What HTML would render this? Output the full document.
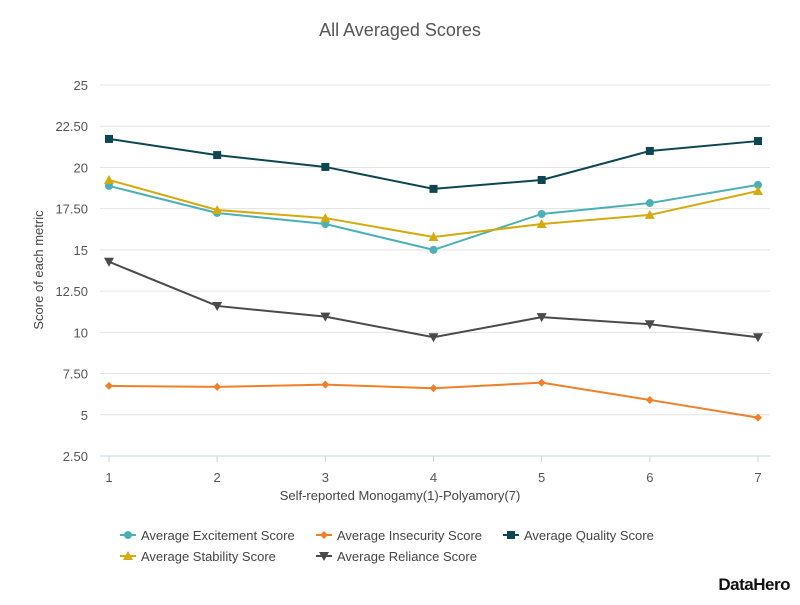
<!DOCTYPE html>
<html><head><meta charset="utf-8"><style>
body{margin:0;background:#fff;font-family:"Liberation Sans",sans-serif;}
#wrap{position:relative;width:800px;height:600px;}
</style></head><body>
<div id="wrap">
<svg id="chart" width="800" height="600"></svg>
</div>
<script>
const categories=[1,2,3,4,5,6,7];
const yTicks=[2.5,5,7.5,10,12.5,15,17.5,20,22.5,25];
const yTickLabels=["2.50","5","7.50","10","12.50","15","17.50","20","22.50","25"];
const excitement=[18.88,17.24,16.57,15.0,17.18,17.84,18.94];
const insecurity=[6.75,6.69,6.83,6.61,6.95,5.9,4.83];
const quality=[21.73,20.75,20.03,18.7,19.24,21.0,21.6];
const stability=[19.24,17.42,16.93,15.78,16.57,17.12,18.57];
const reliance=[14.28,11.6,10.95,9.7,10.92,10.49,9.7];
const seriesNames=["Average Excitement Score","Average Insecurity Score","Average Quality Score","Average Stability Score","Average Reliance Score"];

const NS="http://www.w3.org/2000/svg";
const svg=document.getElementById('chart');
function el(t,a,p){const e=document.createElementNS(NS,t);for(const k in a)e.setAttribute(k,a[k]);(p||svg).appendChild(e);return e;}
const x=v=>109+(v-1)*(758-109)/6;
const y=v=>456-(v-2.5)*(456-85)/22.5;

let t=el('text',{x:400,y:36,'text-anchor':'middle','font-size':18,fill:'#555'});t.textContent='All Averaged Scores';


yTicks.forEach((v,i)=>{
 const g=el('line',{x1:100,x2:770,y1:y(v),y2:y(v),stroke:i==0?'#c8d3de':'#e3e3e3','stroke-width':1});
 
 const l=el('text',{x:88,y:y(v)+5,'text-anchor':'end','font-size':13,fill:'#555'});l.textContent=yTickLabels[i];
 
});
categories.forEach(c=>{
 const tk=el('line',{x1:x(c),x2:x(c),y1:456,y2:462,stroke:'#c8d3de'});
 
 const l=el('text',{x:x(c),y:482,'text-anchor':'middle','font-size':13,fill:'#555'});l.textContent=c;
 
});
t=el('text',{x:400,y:500,'text-anchor':'middle','font-size':13,fill:'#444'});t.textContent='Self-reported Monogamy(1)-Polyamory(7)';

t=el('text',{x:0,y:0,'text-anchor':'middle','font-size':13,fill:'#444',transform:'translate(43,270) rotate(-90)'});t.textContent='Score of each metric';


function marker(type,cx,cy,color,parent){
 let m;
 if(type=='circle')m=el('circle',{cx,cy,r:4,fill:color},parent);
 else if(type=='diamond')m=el('path',{d:`M${cx},${cy-4}L${cx+4},${cy}L${cx},${cy+4}L${cx-4},${cy}Z`,fill:color},parent);
 else if(type=='square')m=el('rect',{x:cx-4,y:cy-4,width:8,height:8,fill:color},parent);
 else if(type=='tri')m=el('path',{d:`M${cx},${cy-5}L${cx+5},${cy+4}L${cx-5},${cy+4}Z`,fill:color},parent);
 else m=el('path',{d:`M${cx},${cy+5}L${cx+5},${cy-4}L${cx-5},${cy-4}Z`,fill:color},parent);
 return m;
}
const series=[[excitement,'#4ab0b5','circle','excitement'],[insecurity,'#f07f2a','diamond','insecurity'],[quality,'#0d4650','square','quality'],[stability,'#d4aa0f','tri','stability'],[reliance,'#4a4a4a','tritdown','reliance']];
series.forEach(([d,c,m,n])=>{
 const g=el('g',{});
 const p=el('polyline',{points:d.map((v,i)=>x(categories[i])+','+y(v)).join(' '),fill:'none',stroke:c,'stroke-width':2},g);
 
 d.forEach((v,i)=>{const mk=marker(m,x(categories[i]),y(v),c,g);
  });
});
const legPos=[[120,535],[316,535],[503,535],[120,556],[316,556]];
series.forEach(([d,c,m,n],i)=>{
 const [lx,ly]=legPos[i];
 const g=el('g',{});
 el('line',{x1:lx,x2:lx+16,y1:ly,y2:ly,stroke:c,'stroke-width':2},g);
 marker(m,lx+8,ly,c,g);
 const tt=el('text',{x:lx+21,y:ly+5,'font-size':13,fill:'#444'},g);tt.textContent=seriesNames[i];
});
t=el('text',{x:790,y:590,'text-anchor':'end','font-size':17,'font-weight':'bold',fill:'#111','letter-spacing':'-0.5'});t.textContent='DataHero';

</script>
</body></html>
